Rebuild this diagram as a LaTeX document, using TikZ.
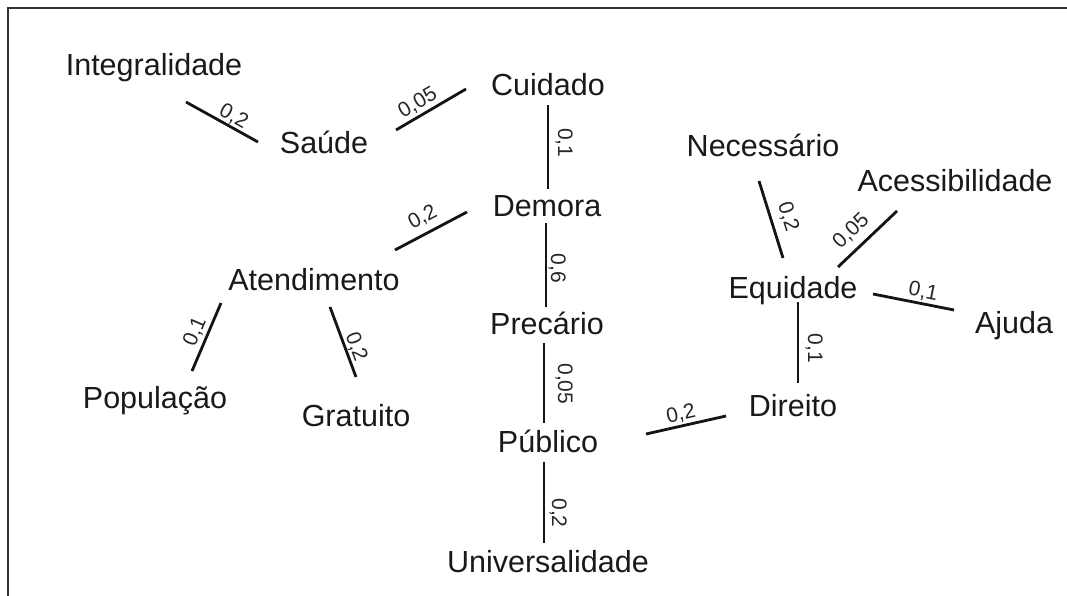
\documentclass[tikz,border=0pt]{standalone}
\usepackage{fontspec}
\setmainfont{Liberation Sans}
\tikzset{
  term/.style={anchor=base, inner sep=1pt, text=black!90, font=\fontsize{30.5}{36}\selectfont},
  link/.style={line width=2.8pt, draw=black!92},
  wt/.style={sloped, allow upside down, above, text=black!85, font=\fontsize{21}{25}\selectfont},
  frame/.style={line width=2.4pt, draw=black!80}
}
\begin{document}
\begin{tikzpicture}[x=1pt,y=-1pt]
\useasboundingbox (0,0) rectangle (1067,596);
\draw[frame] (8,600) -- (8,8) -- (1070,8);

\node[term] (integ) at (154,76) {Integralidade};
\node[term] (saude) at (324,154) {Saúde};
\node[term] (cuid)  at (548,96) {Cuidado};
\node[term] (dem)   at (547,216) {Demora};
\node[term] (aten)  at (314,290) {Atendimento};
\node[term] (pop)   at (155,408) {População};
\node[term] (grat)  at (356,426) {Gratuito};
\node[term] (prec)  at (547,334) {Precário};
\node[term] (pub)   at (548,452) {Público};
\node[term] (univ)  at (548,572) {Universalidade};
\node[term] (nec)   at (763,157) {Necessário};
\node[term] (acc)   at (955,192) {Acessibilidade};
\node[term] (equ)   at (793,298) {Equidade};
\node[term] (aju)   at (1014,333) {Ajuda};
\node[term] (dir)   at (793,416) {Direito};

\draw[link] ([shift={(32,26)}]integ.base) -- node[wt, pos=0.59, inner sep=0.5pt] {0,2} ([shift={(-66,-12)}]saude.base);
\draw[link] ([shift={(72,-24)}]saude.base) -- node[wt, pos=0.40, inner sep=2.3pt] {0,05} ([shift={(-82,-7)}]cuid.base);
\draw[link] ([shift={(0,9)}]cuid.base) -- node[wt, pos=0.45, inner sep=6pt] {0,1} ([shift={(1,-27)}]dem.base);
\draw[link] ([shift={(-1,7)}]dem.base) -- node[wt, pos=0.54, inner sep=1pt] {0,6} ([shift={(-1,-27)}]prec.base);
\draw[link] ([shift={(81,-40)}]aten.base) -- node[wt, pos=0.49, inner sep=6pt] {0,2} ([shift={(-80,-4)}]dem.base);
\draw[link] ([shift={(37,-37)}]pop.base) -- node[wt, pos=0.51, inner sep=2.6pt] {0,1} ([shift={(-93,13)}]aten.base);
\draw[link] ([shift={(16,17)}]aten.base) -- node[wt, pos=0.62, inner sep=0.5pt] {0,2} ([shift={(0,-49)}]grat.base);
\draw[link] ([shift={(-3,9)}]prec.base) -- node[wt, pos=0.51, inner sep=10pt] {0,05} ([shift={(-4,-29)}]pub.base);
\draw[link] ([shift={(-4,10)}]pub.base) -- node[wt, pos=0.63, inner sep=4pt] {0,2} ([shift={(-4,-29)}]univ.base);
\draw[link] ([shift={(98,-18)}]pub.base) -- node[wt, pos=0.47, inner sep=1.8pt] {0,2} ([shift={(-67,0)}]dir.base);
\draw[link] ([shift={(-4,24)}]nec.base) -- node[wt, pos=0.53, inner sep=7pt] {0,2} ([shift={(-10,-40)}]equ.base);
\draw[link] ([shift={(45,-31)}]equ.base) -- node[wt, pos=0.42, inner sep=7pt] {0,05} ([shift={(-58,19)}]acc.base);
\draw[link] ([shift={(80,-4)}]equ.base) -- node[wt, pos=0.59, inner sep=1.7pt] {0,1} ([shift={(-60,-23)}]aju.base);
\draw[link] ([shift={(5,4)}]equ.base) -- node[wt, pos=0.57, inner sep=6pt] {0,1} ([shift={(5,-33)}]dir.base);
\end{tikzpicture}
\end{document}
